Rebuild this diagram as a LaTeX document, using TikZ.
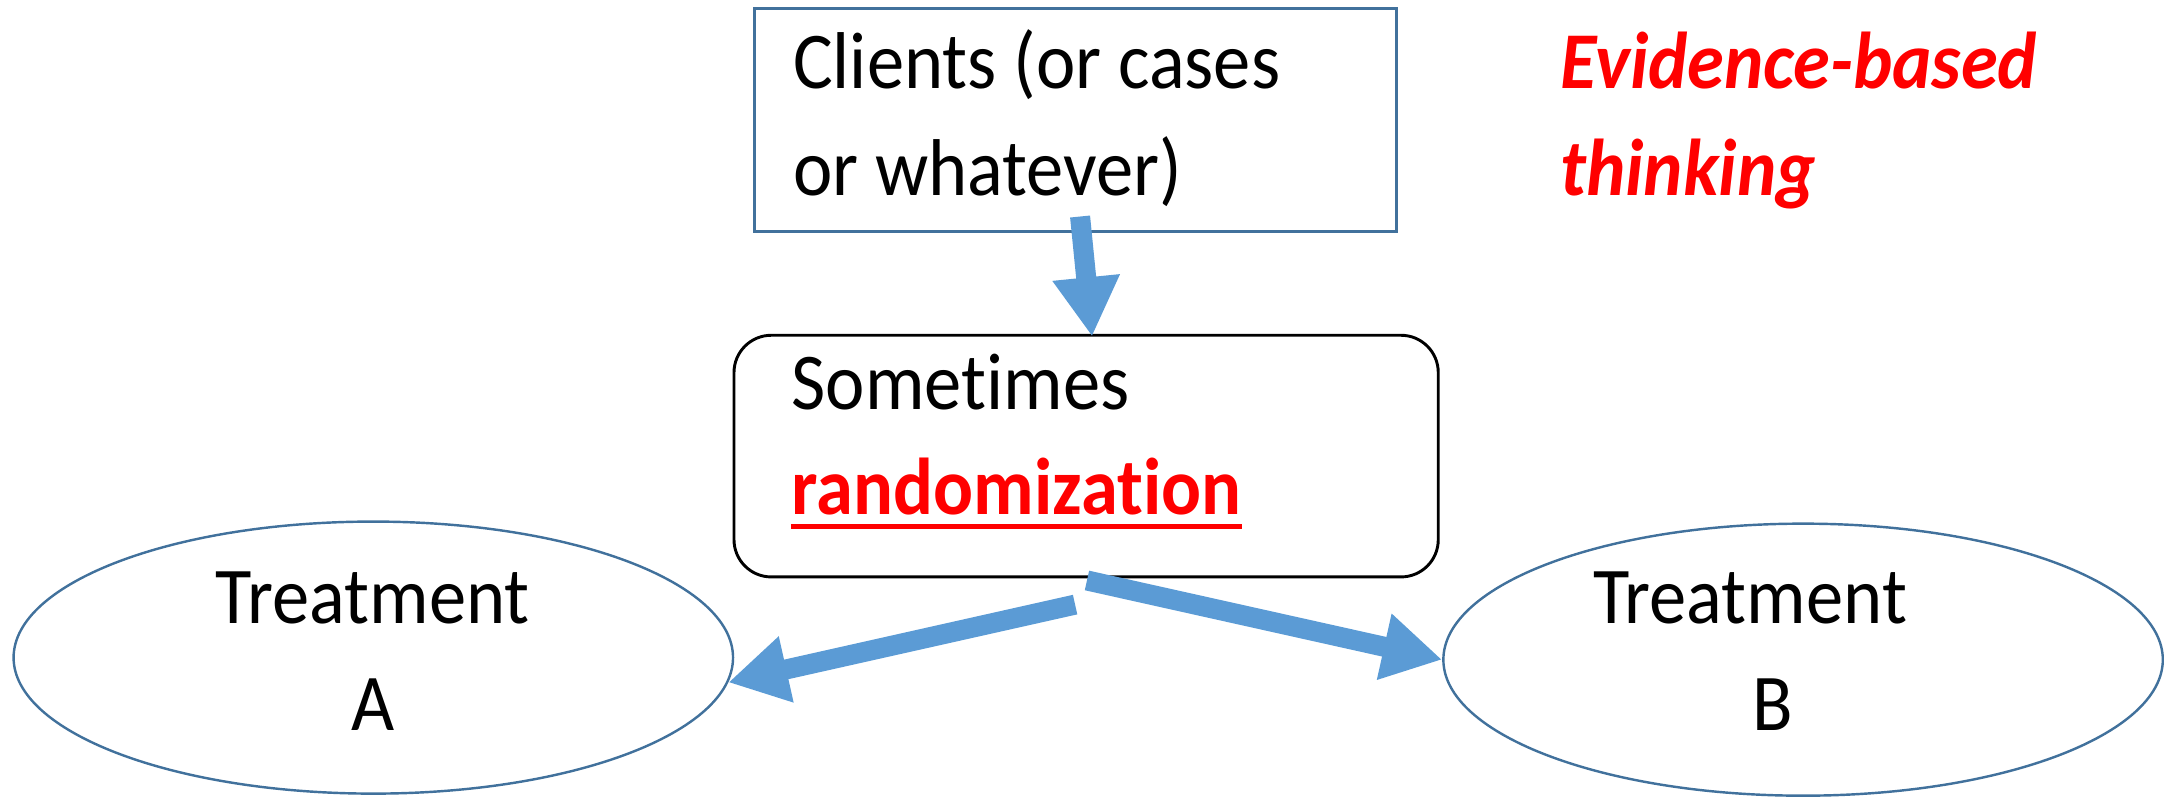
\documentclass[tikz,border=0pt]{standalone}
\usepackage{fontspec}
\setmainfont{Carlito}[FakeStretch=0.925, Ligatures=NoCommon]
\usetikzlibrary{shapes.geometric,arrows.meta,calc}
\definecolor{boxblue}{HTML}{41719C}
\definecolor{arrblue}{HTML}{5B9BD5}
\definecolor{evred}{HTML}{FF0000}
\begin{document}
\begin{tikzpicture}[x=0.01cm,y=0.01cm,
  txt/.style={inner sep=0pt, anchor=base west, font=\fontsize{16.6}{22}\selectfont},
  ctxt/.style={inner sep=0pt, anchor=base, font=\fontsize{16.6}{22}\selectfont},
  redtxt/.style={txt, text=evred, font=\fontsize{16.6}{22}\selectfont\bfseries\itshape},
  clientbox/.style={draw=boxblue, line width=0.6pt, rectangle, inner sep=0pt, minimum width=4.65cm, minimum height=1.62cm},
  randbox/.style={draw=black, line width=0.6pt, rectangle, rounded corners=0.27cm, inner sep=0pt, minimum width=5.10cm, minimum height=1.75cm},
  treat/.style={draw=boxblue, line width=0.5pt, ellipse, inner sep=0pt, minimum width=5.21cm, minimum height=1.97cm},
  bigarrow/.style={draw=arrblue, line width=0.145cm, -{Triangle[length=0.43cm,width=0.46cm]}}]
\useasboundingbox (0,0) rectangle (1568,-577);
% boxes
\node[clientbox] (clients) at (779.5,-87) {};
\node[randbox] (rand) at (787,-330.5) {};
\node[treat] (ta) at (270.5,-476.5) {};
\node[treat] (tb) at (1306.5,-478) {};
% texts
\node[txt] (cl1) at (574,-64) {Clients (or cases};
\node[txt] (cl2) at (574,-141.5) {or whatever)};
\node[redtxt] (ev1) at (1130,-64) {Evidence-based};
\node[redtxt] (ev2) at (1130,-141.5) {thinking};
\node[txt] (so) at (573,-297) {Sometimes};
\node[txt, text=evred, font=\fontsize{16.6}{22}\selectfont\bfseries] (rz) at (573,-373) {randomization};
\draw[evred, line width=0.03cm] ($(rz.base west)+(0,-8.5)$) -- ($(rz.base east)+(0,-8.5)$);
\node[ctxt] (tat) at (270,-452) {Treatment};
\node[ctxt] (tal) at (270,-529) {A};
\node[ctxt] (tbt) at (1268,-452) {Treatment};
\node[ctxt] (tbl) at (1284.5,-529) {B};
% arrows
\coordinate (a1s) at ($(clients.south)+(3.1,12.2)$);
\coordinate (a1e) at ($(rand.north)+(4.3,-2)$);
\coordinate (a2s) at ($(rand.south)+(-8,-19)$);
\coordinate (a3s) at ($(rand.south)+(0.6,-1.5)$);
\draw[bigarrow] (a1s) -- (a1e);
\draw[bigarrow] (a2s) -- (ta.-4.7);
\draw[bigarrow] (a3s) -- (tb.west);
\end{tikzpicture}
\end{document}
